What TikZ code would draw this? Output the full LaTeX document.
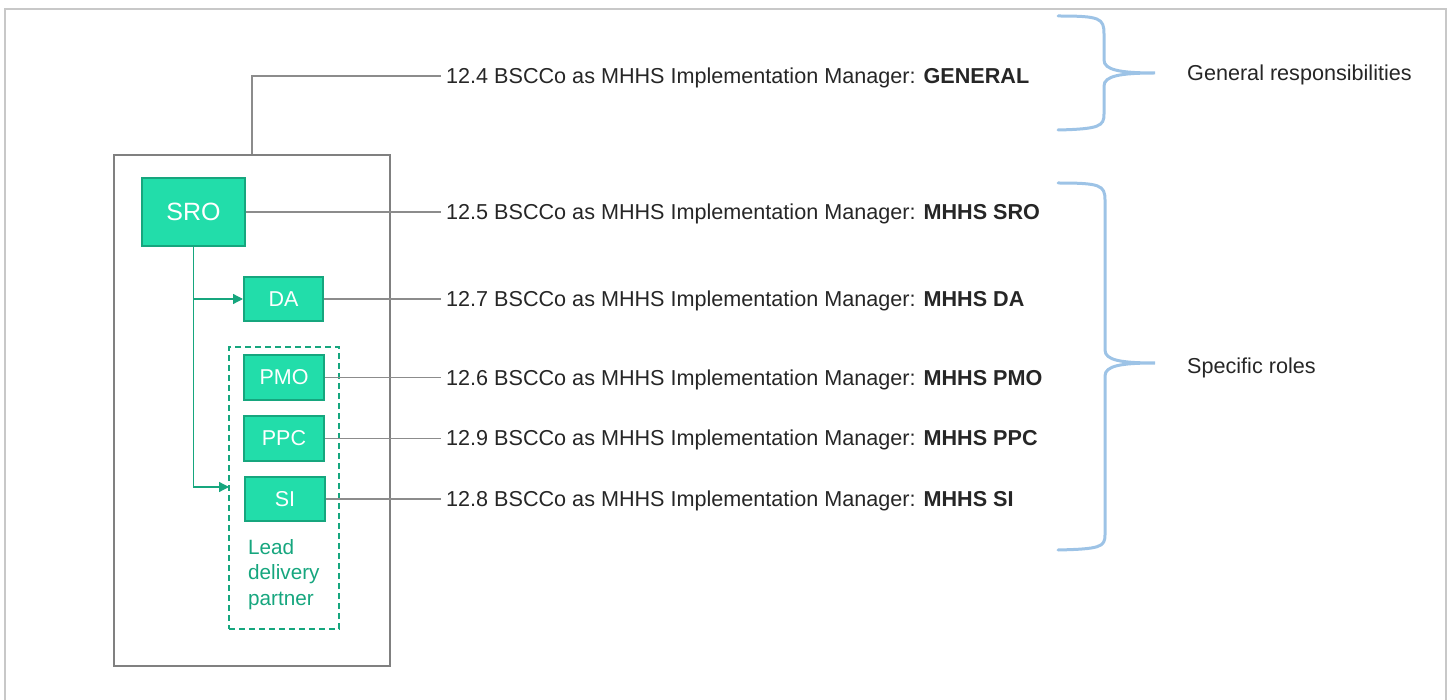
\documentclass[tikz,border=0pt]{standalone}
\usepackage{fontspec}
\setmainfont{Liberation Sans}
\usetikzlibrary{arrows.meta}
\definecolor{mint}{HTML}{22DDAA}
\definecolor{mintdark}{HTML}{16A67E}
\definecolor{txt}{HTML}{262626}
\definecolor{frame}{HTML}{C8C8C8}
\definecolor{boxgray}{HTML}{808080}
\definecolor{linegray}{HTML}{8C8C8C}
\definecolor{brace}{HTML}{9DC3E6}
\begin{document}
\begin{tikzpicture}[x=1pt,y=-1pt,
  rolebox/.style={draw=mintdark,fill=mint,line width=2pt,text=white,inner sep=0pt,font=\fontsize{21.5}{24}\selectfont},
  clause/.style={anchor=west,inner xsep=5pt,inner ysep=0pt,text=txt,font=\fontsize{21.6}{24}\selectfont},
  conn/.style={draw=linegray,line width=1.2pt},
  gconn/.style={draw=mintdark,line width=1.3pt,-{Triangle[length=10pt,width=10pt]}},
  bracestyle/.style={draw=brace,line width=3pt,line cap=round},
  side/.style={anchor=west,text=txt,inner sep=0pt,font=\fontsize{21.6}{24}\selectfont}]
\useasboundingbox (0,0) rectangle (1451,700);
% outer frame
\draw[frame,line width=2pt] (5,702) -- (5,9) -- (1446,9) -- (1446,702);
% big box
\node[draw=boxgray,line width=2.5pt,minimum width=276pt,minimum height=511pt,inner sep=0pt] (big) at (252,410.5) {};
% dashed LDP box
\node[draw=mintdark,dashed,dash pattern=on 6pt off 4pt,line width=1.3pt,minimum width=110pt,minimum height=282pt,inner sep=0pt] (ldp) at (284,488) {};
\node[anchor=north west,text=mintdark,align=left,inner sep=0pt,font=\fontsize{20.7}{25.5}\selectfont] (ldptext) at (248,539) {Lead\\delivery\\partner};
% role boxes
\node[rolebox,minimum width=103pt,minimum height=68pt,font=\fontsize{25}{28}\selectfont] (sro) at (193.5,212) {SRO};
\node[rolebox,minimum width=79pt,minimum height=44pt] (da) at (283.5,299) {DA};
\node[rolebox,minimum width=80pt,minimum height=45pt] (pmo) at (284,377.5) {PMO};
\node[rolebox,minimum width=80pt,minimum height=45pt] (ppc) at (284,438.5) {PPC};
\node[rolebox,minimum width=80pt,minimum height=44pt] (si) at (285,499) {SI};
% clause texts
\node[clause] (t1) at (441,77.5) {12.4 BSCCo as MHHS Implementation Manager: \textbf{GENERAL}};
\node[clause] (t2) at (441,213.5) {12.5 BSCCo as MHHS Implementation Manager: \textbf{MHHS SRO}};
\node[clause] (t3) at (441,300.5) {12.7 BSCCo as MHHS Implementation Manager: \textbf{MHHS DA}};
\node[clause] (t4) at (441,379.5) {12.6 BSCCo as MHHS Implementation Manager: \textbf{MHHS PMO}};
\node[clause] (t5) at (441,439.5) {12.9 BSCCo as MHHS Implementation Manager: \textbf{MHHS PPC}};
\node[clause] (t6) at (441,500.5) {12.8 BSCCo as MHHS Implementation Manager: \textbf{MHHS SI}};
% gray connectors
\coordinate (topturn) at (252,76);
\draw[conn] (big.north) -- (topturn) -- (topturn -| t1.west);
\draw[conn] (sro.east) -- (sro.east -| t2.west);
\draw[conn] (da.east) -- (da.east -| t3.west);
\draw[conn] (pmo.east) -- (pmo.east -| t4.west);
\draw[conn] (ppc.east) -- (ppc.east -| t5.west);
\draw[conn] (si.east) -- (si.east -| t6.west);
% green connectors
\coordinate (ldpin) at (229,487);
\draw[gconn] (sro.south) |- (da.west);
\draw[gconn] (sro.south) |- (ldpin);
% braces
\draw[bracestyle] (1058,16) .. controls (1100,16) and (1104,18) .. (1104,34)
  -- (1104,60) .. controls (1104,70) and (1120,73) .. (1155,73)
  .. controls (1120,73) and (1104,76) .. (1104,86)
  -- (1104,114) .. controls (1104,126) and (1100,129) .. (1058,130);
\draw[bracestyle] (1058,183) .. controls (1100,183) and (1105,185) .. (1105,200)
  -- (1105,350) .. controls (1105,360) and (1120,363) .. (1155,363)
  .. controls (1120,363) and (1105,366) .. (1105,376)
  -- (1105,535) .. controls (1105,547) and (1100,549) .. (1058,550);
\node[side] (gen) at (1187,75) {General responsibilities};
\node[side] (spec) at (1187,368) {Specific roles};
\end{tikzpicture}
\end{document}
